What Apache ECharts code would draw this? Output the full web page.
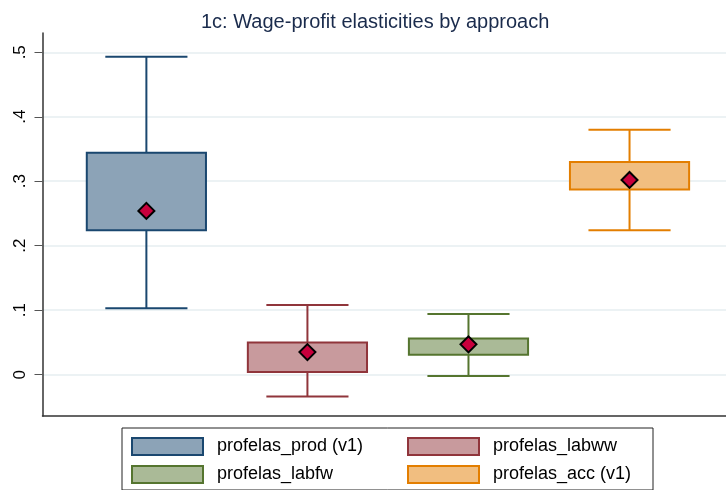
<!DOCTYPE html>
<html>
<head>
<meta charset="utf-8">
<script src="https://cdn.jsdelivr.net/npm/echarts@6/dist/echarts.min.js"></script>
<style>
  html, body { margin: 0; padding: 0; background: #fff; }
  #chart { width: 726px; height: 490px; }
</style>
</head>
<body>
<div id="chart"></div>
<script>
// groups in plot order
const groupNames = ['profelas_prod (v1)', 'profelas_labww', 'profelas_labfw', 'profelas_acc (v1)']
const groupPos = [1, 2, 3, 4]
// whisker low, q1, q3, whisker high, mean
const whiskerLow = [0.103, -0.034, -0.002, 0.224]
const boxLow = [0.224, 0.004, 0.031, 0.287]
const boxHigh = [0.344, 0.050, 0.056, 0.330]
const whiskerHigh = [0.493, 0.108, 0.094, 0.380]
const means = [0.254, 0.035, 0.047, 0.302]
const yTicks = [0, 0.1, 0.2, 0.3, 0.4, 0.5]

// stata s2color look
const lineColors = ['#1a476f', '#90353b', '#55752f', '#e37e00']
const fillColors = ['#8ca3b7', '#c89a9d', '#aaba97', '#f1be80']
const boxWidth = 0.74
const capWidth = 0.51

const chart = echarts.init(document.getElementById('chart'))

function renderBox(params, api) {
    const i = params.seriesIndex
    const x = api.value(0)
    const lo = api.coord([x, api.value(1)])
    const q1 = api.coord([x, api.value(2)])
    const q3 = api.coord([x, api.value(3)])
    const hi = api.coord([x, api.value(4)])
    const mu = api.coord([x, api.value(5)])
    const bw = api.size([boxWidth, 0])[0]
    const cw = api.size([capWidth, 0])[0]
    const lineStyle = { stroke: lineColors[i], lineWidth: 2 }
    const d = 8
    return {
        type: 'group',
        children: [
            { type: 'line', shape: { x1: hi[0], y1: hi[1], x2: q3[0], y2: q3[1] }, style: lineStyle },
            { type: 'line', shape: { x1: lo[0], y1: lo[1], x2: q1[0], y2: q1[1] }, style: lineStyle },
            { type: 'line', shape: { x1: hi[0] - cw / 2, y1: hi[1], x2: hi[0] + cw / 2, y2: hi[1] }, style: lineStyle },
            { type: 'line', shape: { x1: lo[0] - cw / 2, y1: lo[1], x2: lo[0] + cw / 2, y2: lo[1] }, style: lineStyle },
            {
                type: 'rect',
                shape: { x: q3[0] - bw / 2, y: q3[1], width: bw, height: q1[1] - q3[1] },
                style: { fill: fillColors[i], stroke: lineColors[i], lineWidth: 2 }
            },
            {
                type: 'polygon',
                shape: { points: [[mu[0], mu[1] - d], [mu[0] + d, mu[1]], [mu[0], mu[1] + d], [mu[0] - d, mu[1]]] },
                style: { fill: '#c8003c', stroke: '#000', lineWidth: 2 }
            }
        ]
    }
}

const series = groupNames.map((name, i) => ({
    name: name,
    type: 'custom',
    renderItem: renderBox,
    itemStyle: { color: fillColors[i], borderColor: lineColors[i], borderWidth: 2 },
    encode: { x: 0, y: [1, 2, 3, 4, 5] },
    data: [[groupPos[i], whiskerLow[i], boxLow[i], boxHigh[i], whiskerHigh[i], means[i]]],
    silent: true
}))

// legend laid out in two columns: prod, labww / labfw, acc
const legendOrder = [0, 1, 2, 3]
const legendTextWidth = [181, 151, 181, 151]

chart.setOption({
    animation: false,
    backgroundColor: '#fff',
    title: {
        text: '1c: Wage-profit elasticities by approach',
        left: 201,
        top: 12,
        padding: 0,
        textStyle: {
            fontFamily: 'Liberation Sans',
            fontSize: 20,
            fontWeight: 'normal',
            color: '#1a2b4c'
        }
    },
    legend: {
        left: 122,
        top: 428,
        width: 520,
        padding: [9, 9, 6, 9],
        itemWidth: 71,
        itemHeight: 17,
        itemGap: 9,
        borderColor: '#222',
        borderWidth: 1,
        icon: 'rect',
        selectedMode: false,
        data: legendOrder.map((k) => ({
            name: groupNames[k],
            itemStyle: { color: fillColors[k], borderColor: lineColors[k], borderWidth: 2 },
            textStyle: { width: legendTextWidth[k] }
        })),
        textStyle: {
            fontFamily: 'Liberation Sans',
            fontSize: 18,
            lineHeight: 14,
            color: '#000',
            padding: [0, 0, 0, 9]
        }
    },
    grid: {
        left: 42.5,
        right: 0,
        top: 33,
        bottom: 74
    },
    xAxis: {
        type: 'value',
        min: 0.355,
        max: 4.599,
        axisLine: { show: true, onZero: false, lineStyle: { color: '#333', width: 1.5 } },
        axisTick: { show: false },
        axisLabel: { show: false },
        splitLine: { show: false }
    },
    yAxis: {
        type: 'value',
        min: -0.0641,
        max: 0.5299,
        axisLine: { show: true, onZero: false, lineStyle: { color: '#333', width: 1.5 } },
        axisTick: {
            show: true,
            length: 8,
            customValues: yTicks,
            lineStyle: { color: '#555', width: 1 }
        },
        axisLabel: {
            customValues: yTicks,
            rotate: 90,
            margin: 14,
            fontFamily: 'Liberation Sans',
            fontSize: 17,
            color: '#000',
            formatter: (v) => (v === 0 ? '0' : String(+v.toFixed(1)).replace(/^0\./, '.'))
        },
        splitLine: { show: true, lineStyle: { color: '#e6eef1', width: 1.5 } }
    },
    series: series
})
</script>
</body>
</html>
